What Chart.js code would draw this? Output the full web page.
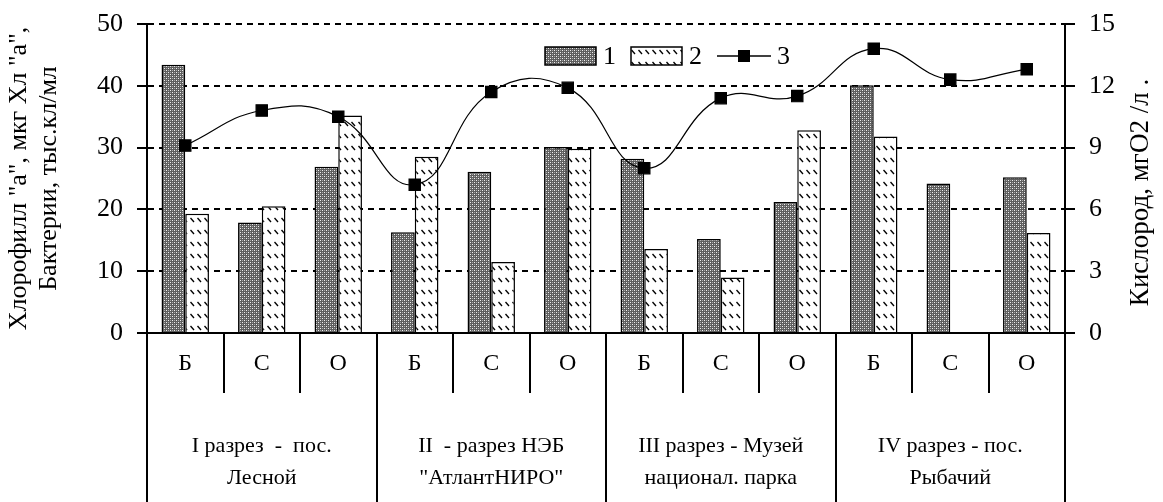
<!DOCTYPE html>
<html>
<head>
<meta charset="utf-8">
<script src="https://cdn.jsdelivr.net/npm/chart.js@4/dist/chart.umd.min.js"></script>
<style>
  html, body { margin: 0; background: #fff; }
  #wrap { width: 1163px; height: 502px; }
</style>
</head>
<body>
<div id="wrap"><canvas id="chart"></canvas></div>
<script>
// stations inside each section
const stations = ["Б", "С", "О", "Б", "С", "О", "Б", "С", "О", "Б", "С", "О"];
// section captions (two lines each), one per 3 stations
const sections = [
  ["I разрез  -  пос.", "Лесной"],
  ["II  - разрез НЭБ", "\"АтлантНИРО\""],
  ["III разрез - Музей", "национал. парка"],
  ["IV разрез - пос.", "Рыбачий"]
];
// series 1 (crosshatch bars), series 2 (hatched bars) - left axis
const series1 = [43.4, 17.9, 26.9, 16.3, 26.1, 30.1, 28.2, 15.2, 21.2, 40.1, 24.2, 25.2];
const series2 = [19.3, 20.5, 35.2, 28.5, 11.5, 29.8, 13.6, 9.0, 32.8, 31.8, null, 16.2];
// series 3 (line) - oxygen, right axis
const series3 = [9.1, 10.8, 10.5, 7.2, 11.7, 11.9, 8.0, 11.4, 11.5, 13.8, 12.3, 12.8];
const legendLabels = ["1", "2", "3"];

const leftTitle = ["Хлорофилл \"а\", мкг Хл \"а\",", "Бактерии, тыс.кл/мл"];
const rightTitle = "Кислород, мгО2 /л .";

const FONT = "Liberation Serif";

// patterns for the bars
function crossPattern() {
  const c = document.createElement("canvas");
  c.width = 4; c.height = 4;
  const g = c.getContext("2d");
  g.fillStyle = "#5e5e5e";
  g.fillRect(0, 0, 4, 4);
  g.fillStyle = "#f0f0f0";
  g.fillRect(0, 0, 1, 1);
  g.fillRect(2, 2, 1, 1);
  g.fillStyle = "#a8a8a8";
  g.fillRect(2, 0, 1, 1);
  g.fillRect(0, 2, 1, 1);
  return g.createPattern(c, "repeat");
}

function hatchPattern() {
  const c = document.createElement("canvas");
  c.width = 7; c.height = 12;
  const g = c.getContext("2d");
  g.fillStyle = "#fff";
  g.fillRect(0, 0, 7, 12);
  g.strokeStyle = "#000";
  g.lineWidth = 1.3;
  g.beginPath();
  g.moveTo(1.5, 2);
  g.lineTo(5, 6);
  g.stroke();
  return g.createPattern(c, "repeat");
}

const fill1 = crossPattern();
const fill2 = hatchPattern();

// section table under the x axis, right title and legend
const extras = {
  id: "extras",
  afterDraw(chart) {
    const { ctx, chartArea } = chart;
    const x = chart.scales.x;
    const half = (x.getPixelForValue(1) - x.getPixelForValue(0)) / 2;
    const bottom = chart.height;

    ctx.save();
    ctx.strokeStyle = "#000";
    ctx.lineWidth = 2;
    for (let i = 0; i <= stations.length; i += 3) {
      const px = Math.round(x.getPixelForValue(i) - half);
      ctx.beginPath();
      ctx.moveTo(px, chartArea.bottom);
      ctx.lineTo(px, bottom);
      ctx.stroke();
    }

    ctx.fillStyle = "#000";
    ctx.font = "22px '" + FONT + "'";
    ctx.textAlign = "center";
    ctx.textBaseline = "middle";
    sections.forEach((lines, i) => {
      const cx = (x.getPixelForValue(i * 3) + x.getPixelForValue(i * 3 + 2)) / 2;
      ctx.fillText(lines[0], cx, chartArea.bottom + 113);
      ctx.fillText(lines[1], cx, chartArea.bottom + 145);
    });

    // right axis title, reads bottom to top
    ctx.font = "27px '" + FONT + "'";
    ctx.translate(1141, (chartArea.top + chartArea.bottom) / 2 + 14);
    ctx.rotate(-Math.PI / 2);
    ctx.fillText(rightTitle, 0, 0);
    ctx.restore();

    // legend
    ctx.save();
    const ly = chartArea.top + 32;
    let lx = chartArea.left + 398;
    ctx.lineWidth = 1.5;
    ctx.strokeStyle = "#000";
    ctx.font = "26px '" + FONT + "'";
    ctx.textBaseline = "middle";
    ctx.fillStyle = "#000";
    [fill1, fill2].forEach((f, i) => {
      ctx.fillStyle = f;
      ctx.fillRect(lx, ly - 9, 51, 18);
      ctx.strokeRect(lx, ly - 9, 51, 18);
      ctx.fillStyle = "#000";
      ctx.fillText(legendLabels[i], lx + 58, ly + 1);
      lx += 86;
    });
    ctx.lineWidth = 1.5;
    ctx.beginPath();
    ctx.moveTo(lx, ly);
    ctx.lineTo(lx + 54, ly);
    ctx.stroke();
    ctx.fillRect(lx + 21, ly - 6, 12, 12);
    ctx.fillText(legendLabels[2], lx + 60, ly + 1);
    ctx.restore();
  }
};

new Chart(document.getElementById("chart"), {
  data: {
    labels: stations,
    datasets: [
      {
        type: "line",
        label: legendLabels[2],
        data: series3,
        yAxisID: "y1",
        borderColor: "#000",
        borderWidth: 1.2,
        tension: 0.45,
        pointStyle: "rect",
        pointRadius: 8,
        pointBackgroundColor: "#000",
        pointBorderColor: "#000",
        order: 0
      },
      {
        type: "bar",
        label: legendLabels[0],
        data: series1,
        yAxisID: "y",
        backgroundColor: fill1,
        borderColor: "#000",
        borderWidth: 1.5,
        categoryPercentage: 0.62,
        barPercentage: 1.0,
        order: 1
      },
      {
        type: "bar",
        label: legendLabels[1],
        data: series2,
        yAxisID: "y",
        backgroundColor: fill2,
        borderColor: "#000",
        borderWidth: 1.5,
        categoryPercentage: 0.62,
        barPercentage: 1.0,
        order: 1
      }
    ]
  },
  options: {
    responsive: true,
    maintainAspectRatio: false,
    animation: false,
    layout: { padding: { top: 24 } },
    plugins: {
      legend: { display: false },
      tooltip: { enabled: false }
    },
    scales: {
      x: {
        grid: { offset: true, drawOnChartArea: false, tickLength: 60, color: "#000", lineWidth: 2 },
        border: { color: "#000", width: 2 },
        ticks: { color: "#000", padding: -44, font: { family: FONT, size: 24 } },
        afterFit: (s) => { s.height = 169; }
      },
      y: {
        position: "left",
        min: 0,
        max: 50,
        ticks: { stepSize: 10, color: "#000", padding: 14, font: { family: FONT, size: 26 } },
        grid: { color: "#000", lineWidth: 2, tickLength: 10, tickBorderDash: [] },
        border: { color: "#000", width: 2, dash: [6, 5] },
        title: {
          display: true,
          text: leftTitle,
          color: "#000",
          font: { family: FONT, size: 26, lineHeight: 1.15 },
          padding: { top: 4, bottom: 0 }
        },
        afterFit: (s) => { s.width = 147; s.paddingTop = 0; s.paddingBottom = 0; }
      },
      y1: {
        position: "right",
        min: 0,
        max: 15,
        ticks: { stepSize: 3, color: "#000", padding: 14, font: { family: FONT, size: 26 } },
        grid: { drawOnChartArea: false, color: "#000", lineWidth: 2, tickLength: 10 },
        border: { color: "#000", width: 2 },
        afterFit: (s) => { s.width = 98; s.paddingTop = 0; s.paddingBottom = 0; }
      }
    }
  },
  plugins: [extras]
});
</script>
</body>
</html>
